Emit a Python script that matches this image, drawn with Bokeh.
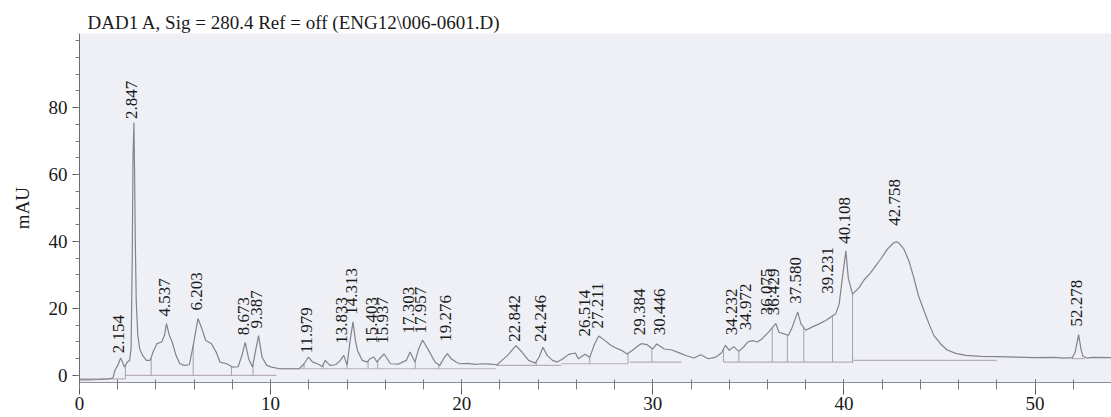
import numpy as np
from bokeh.plotting import figure
from bokeh.models import ColumnDataSource, Range1d, FixedTicker
from bokeh.embed import file_html
from bokeh.resources import INLINE
from bokeh.core.properties import value

# ---- data ----
trace_time = [0.0, 0.5, 1.0, 1.5, 1.75, 1.85, 2.0, 2.15, 2.25, 2.35, 2.5, 2.62, 2.70, 2.76, 2.80, 2.847,
              2.88, 2.92, 2.97, 3.05, 3.15, 3.3, 3.5, 3.7, 3.85, 4.05, 4.3, 4.45, 4.55, 4.7, 4.85, 5.05,
              5.25, 5.5, 5.75, 5.95, 6.2, 6.4, 6.6, 6.9, 7.15, 7.35, 7.7, 8.0, 8.3, 8.5, 8.67, 8.85,
              9.05, 9.2, 9.37, 9.55, 9.8, 10.05, 10.5, 11.0, 11.5, 11.75, 11.98, 12.2, 12.45, 12.7,
              12.86, 13.1, 13.4, 13.65, 13.83, 14.0, 14.15, 14.31, 14.45, 14.55, 14.8, 15.05, 15.2,
              15.4, 15.57, 15.7, 15.94, 16.27, 16.7, 17.1, 17.3, 17.55, 17.75, 17.95, 18.27, 18.6,
              18.85, 19.05, 19.25, 19.45, 19.7, 19.9, 20.3, 20.7, 21.1, 21.5, 21.85, 22.1, 22.4,
              22.84, 23.15, 23.5, 23.85, 24.05, 24.25, 24.47, 24.75, 25.0, 25.3, 25.6, 25.95, 26.1,
              26.45, 26.7, 26.95, 27.17, 27.5, 27.8, 28.15, 28.4, 28.65, 28.9, 29.27, 29.4, 29.7,
              30.0, 30.2, 30.45, 30.6, 31.0, 31.45, 31.8, 32.15, 32.5, 32.9, 33.3, 33.6, 33.8, 34.0,
              34.23, 34.5, 34.75, 34.97, 35.2, 35.47, 35.7, 36.07, 36.43, 36.6, 36.86, 37.1, 37.3,
              37.58, 37.75, 38.0, 38.35, 38.7, 39.05, 39.3, 39.57, 39.75, 39.9, 40.1, 40.23, 40.45,
              40.8, 41.05, 41.4, 41.66, 41.92, 42.27, 42.62, 42.76, 42.88, 43.14, 43.4, 43.65, 43.9,
              44.19, 44.45, 44.71, 45.06, 45.4, 45.85, 46.37, 47.15, 48.0, 49.0, 50.0, 51.0, 51.5,
              51.95, 52.1, 52.28, 52.4, 52.5, 52.7, 53.0, 54.0]
trace_mau = [-1.3, -1.3, -1.2, -1.0, -0.8, 1.5, 3.0, 5.2, 4.0, 2.5, 4.0, 4.5, 8.0, 35.0, 65.0, 75.5,
             62.0, 40.0, 22.0, 12.0, 8.0, 6.0, 4.5, 4.5, 7.0, 9.5, 10.0, 12.0, 15.5, 12.0, 10.0, 6.0,
             3.5, 3.0, 3.2, 9.0, 17.0, 14.0, 10.5, 9.5, 7.0, 4.0, 3.5, 2.5, 2.6, 6.0, 9.9, 5.0,
             2.5, 7.0, 11.9, 5.5, 3.0, 2.5, 2.0, 2.0, 2.0, 3.5, 5.5, 4.0, 3.5, 2.7,
             4.5, 3.0, 3.2, 4.5, 6.0, 3.0, 10.0, 16.0, 10.0, 7.4, 4.5, 4.0, 5.0,
             5.5, 4.0, 5.0, 6.4, 3.5, 3.4, 4.5, 7.0, 4.0, 8.0, 10.6, 7.5, 4.0,
             3.0, 5.0, 6.5, 5.0, 4.0, 3.5, 3.6, 3.3, 3.5, 3.4, 3.2, 4.5, 6.0,
             8.9, 7.0, 4.5, 3.7, 5.5, 8.4, 6.0, 4.5, 4.0, 5.0, 6.3, 6.7, 5.0,
             6.3, 5.4, 9.4, 11.8, 10.4, 9.0, 8.0, 7.4, 6.4, 7.4, 9.0, 9.5, 9.2,
             7.9, 9.4, 8.5, 7.9, 7.6, 6.6, 5.8, 5.2, 6.2, 5.0, 5.5, 6.8, 9.0, 7.5,
             8.6, 7.2, 8.5, 10.0, 10.4, 10.0, 10.9, 13.0, 15.5, 12.9, 12.4, 12.0, 14.5,
             19.0, 15.4, 13.5, 14.5, 15.4, 16.4, 17.4, 18.4, 21.3, 28.3, 37.2, 29.0, 24.3,
             26.3, 28.5, 30.7, 32.7, 34.7, 37.7, 39.7, 39.9, 39.5, 37.7, 34.2, 29.3, 23.8,
             19.3, 15.4, 11.9, 9.4, 7.6, 6.6, 6.0, 5.7, 5.6, 5.5, 5.3, 5.4, 5.2,
             5.3, 7.0, 12.2, 8.0, 5.8, 5.2, 5.4, 5.3]

peak_rt = [2.154, 2.847, 4.537, 6.203, 8.673, 9.387, 11.979, 13.833, 14.313, 15.403, 15.937,
           17.303, 17.957, 19.276, 22.842, 24.246, 26.514, 27.211, 29.384, 30.446, 34.232,
           34.972, 36.075, 36.429, 37.580, 39.231, 40.108, 42.758, 52.278]
peak_labels = ["2.154", "2.847", "4.537", "6.203", "8.673", "9.387", "11.979", "13.833", "14.313",
               "15.403", "15.937", "17.303", "17.957", "19.276", "22.842", "24.246", "26.514",
               "27.211", "29.384", "30.446", "34.232", "34.972", "36.075", "36.429", "37.580",
               "39.231", "40.108", "42.758", "52.278"]
peak_heights = [6.0, 76.0, 17.0, 18.8, 11.4, 13.4, 6.0, 8.9, 17.5, 8.9, 8.9,
                11.9, 11.9, 9.5, 9.5, 9.5, 11.0, 13.4, 11.4, 11.4, 11.4,
                12.9, 17.4, 17.4, 20.8, 23.8, 38.7, 44.1, 14.0]

base_start = [0.0, 2.4, 10.3, 21.8, 25.2, 28.8, 33.7, 35.2, 40.5, 51.9]
base_end = [2.4, 10.3, 21.8, 25.2, 28.7, 31.5, 35.2, 40.5, 48.0, 52.6]
base_level = [-1.0, 0.0, 2.0, 3.0, 3.5, 4.0, 4.0, 4.0, 4.5, 5.0]

drop_times = [2.4, 3.75, 5.95, 7.95, 9.08, 11.75, 12.75, 14.0, 15.1, 15.6, 17.57, 18.8,
              21.85, 23.9, 26.7, 28.7, 29.95, 33.7, 34.5, 36.25, 37.04, 37.9, 39.4, 40.45]

x_ticks = [0, 10, 20, 30, 40, 50]
x_minor = list(range(0, 56, 2))
y_ticks = [0, 20, 40, 60, 80]
y_minor = list(range(-5, 105, 5))

title_text = "DAD1 A, Sig = 280.4 Ref = off (ENG12\\006-0601.D)"
y_title = "mAU"

# ---- figure ----
FONT = "Liberation Serif"
p = figure(width=1111, height=417, output_backend="svg", toolbar_location=None,
           x_range=Range1d(0, 54.0), y_range=Range1d(-2.1, 102.1),
           min_border_left=79, min_border_right=0, min_border_top=33, min_border_bottom=35,
           background_fill_color="#eef0f6", border_fill_color="white",
           outline_line_color=None)

p.title.text = title_text
p.title.text_font = FONT
p.title.text_font_size = "19px"
p.title.text_font_style = "normal"
p.title.text_color = "#1a1a1a"
p.title.align = "left"
p.title.offset = 8
p.title.standoff = 1

p.xgrid.visible = False
p.ygrid.visible = False

p.xaxis.ticker = FixedTicker(ticks=x_ticks, minor_ticks=x_minor)
p.yaxis.ticker = FixedTicker(ticks=y_ticks, minor_ticks=y_minor)

for ax in (p.xaxis, p.yaxis):
    ax.axis_line_color = "#6a6a70"
    ax.major_tick_line_color = "#55555a"
    ax.minor_tick_line_color = "#77777d"
    ax.major_label_text_font = FONT
    ax.major_label_text_font_size = "19px"
    ax.major_label_text_color = "#1a1a1a"

p.xaxis.major_tick_out = 12
p.xaxis.major_tick_in = 3
p.xaxis.minor_tick_out = 7
p.xaxis.minor_tick_in = 3
p.xaxis.major_label_standoff = 2
p.xaxis.axis_line_color = "#8a8e96"

p.yaxis.major_tick_out = 7
p.yaxis.major_tick_in = 0
p.yaxis.minor_tick_out = 4
p.yaxis.minor_tick_in = 0
p.yaxis.major_label_standoff = 5
p.yaxis.axis_label = y_title
p.yaxis.axis_label_text_font = FONT
p.yaxis.axis_label_text_font_size = "19px"
p.yaxis.axis_label_text_font_style = "normal"
p.yaxis.axis_label_text_color = "#1a1a1a"
p.yaxis.axis_label_standoff = 13

# integration baselines
p.segment(x0=base_start, y0=base_level, x1=base_end, y1=base_level,
          line_color="#b8aeb8", line_width=1.2)

# drop lines from baseline to trace
tt = np.array(trace_time)
yy = np.array(trace_mau)
drop_top = np.interp(drop_times, tt, yy)
drop_bottom = []
for t in drop_times:
    lvl = base_level[0]
    for s, e, l in zip(base_start, base_end, base_level):
        if s <= t <= e:
            lvl = l
            break
        if t > e:
            lvl = l
    drop_bottom.append(lvl)
p.segment(x0=drop_times, y0=drop_bottom, x1=drop_times, y1=list(drop_top),
          line_color="#9a9aa2", line_width=0.9)

# chromatogram trace
p.line(trace_time, trace_mau, line_color="#83838b", line_width=1.2)

# peak retention time labels
lab_src = ColumnDataSource(dict(x=peak_rt, y=peak_heights, t=peak_labels))
p.text(x="x", y="y", text="t", source=lab_src, angle=np.pi / 2,
       text_align="left", text_baseline="middle", text_font=value(FONT),
       text_font_size="17px", text_color="#1a1a1a", x_offset=-2, y_offset=-2)

open("out.html", "w").write(file_html(p, INLINE))
